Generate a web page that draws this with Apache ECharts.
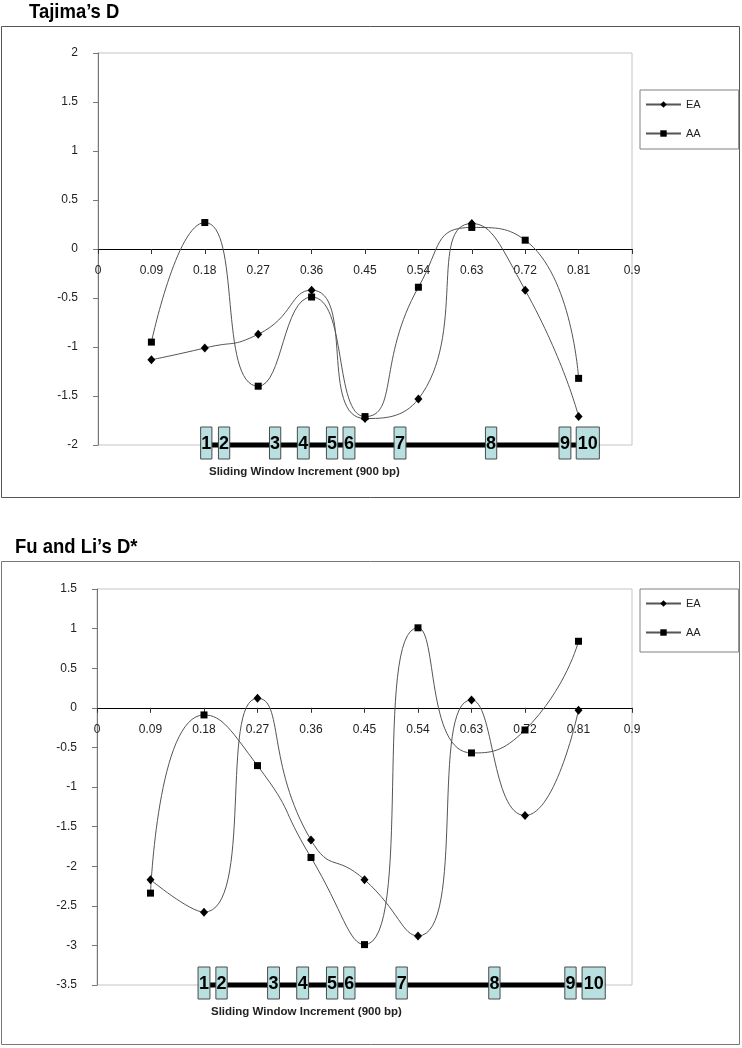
<!DOCTYPE html>
<html>
<head>
<meta charset="utf-8">
<title>Tajima's D / Fu and Li's D*</title>
<script src="https://cdn.jsdelivr.net/npm/echarts@6/dist/echarts.min.js"></script>
<style>
  html, body { margin: 0; padding: 0; background: #fff; }
  #main { width: 742px; height: 1048px; }
</style>
</head>
<body>
<div id="main"></div>
<script>
// sliding window positions (x axis)
var windowPos = [0.09, 0.18, 0.27, 0.36, 0.45, 0.54, 0.63, 0.72, 0.81];

// Tajima's D
var tajimaEA = [-1.13, -1.01, -0.87, -0.42, -1.73, -1.53, 0.26, -0.42, -1.71];
var tajimaAA = [-0.95, 0.27, -1.40, -0.49, -1.71, -0.39, 0.22, 0.09, -1.32];

// Fu and Li's D*
var fuliEA = [-2.17, -2.58, 0.12, -1.67, -2.17, -2.88, 0.10, -1.36, -0.03];
var fuliAA = [-2.34, -0.09, -0.73, -1.89, -2.99, 1.01, -0.57, -0.28, 0.84];

// exon diagram (positions in x-axis units), drawn along the bottom of each plot
var exonLabels = ['1', '2', '3', '4', '5', '6', '7', '8', '9', '10'];
var tajimaExonStart = [0.173, 0.203, 0.289, 0.336, 0.385, 0.413, 0.499, 0.653, 0.777, 0.806];
var tajimaExonEnd   = [0.192, 0.222, 0.308, 0.356, 0.404, 0.433, 0.519, 0.672, 0.797, 0.845];
var fuliExonStart = [0.170, 0.200, 0.287, 0.336, 0.386, 0.415, 0.503, 0.659, 0.787, 0.816];
var fuliExonEnd   = [0.190, 0.219, 0.307, 0.356, 0.405, 0.434, 0.522, 0.678, 0.806, 0.855];

var xTicks = { min: 0, max: 0.9, interval: 0.09 };
var tajimaY = { min: -2, max: 2, interval: 0.5 };
var fuliY = { min: -3.5, max: 1.5, interval: 0.5 };

var FONT = 'Liberation Sans, Arial, sans-serif';

var grids = [
  { left: 98, top: 53, width: 534, height: 392 },
  { left: 97, top: 589, width: 535, height: 396 }
];

function pairs(xs, ys) {
  return xs.map(function (x, i) { return [x, ys[i]]; });
}

// x axis sits on y = 0, labels and ticks travel with it (Excel style)
function xAxisFor(idx, yr) {
  var zeroOffset = -grids[idx].height * (0 - yr.min) / (yr.max - yr.min);
  return {
    type: 'value', gridIndex: idx,
    min: xTicks.min, max: xTicks.max, interval: xTicks.interval,
    offset: zeroOffset,
    axisLine: { show: true, onZero: false, lineStyle: { color: '#000', width: 1 } },
    axisTick: { show: true, length: 5, lineStyle: { color: '#333' } },
    axisLabel: {
      margin: 16, color: '#222', fontSize: 12, fontFamily: FONT,
      formatter: function (v) { return String(+v.toFixed(2)); }
    },
    splitLine: { show: false }
  };
}

function yAxisFor(idx, r) {
  return {
    type: 'value', gridIndex: idx,
    min: r.min, max: r.max, interval: r.interval,
    axisLine: { show: true, onZero: false, lineStyle: { color: '#777', width: 1 } },
    axisTick: { show: true, length: 5, lineStyle: { color: '#777' } },
    axisLabel: { margin: 20, color: '#222', fontSize: 12, fontFamily: FONT },
    splitLine: { show: false }
  };
}

function lineSeries(idx, name, ys) {
  var isEA = name === 'EA';
  return {
    type: 'line', name: name, xAxisIndex: idx, yAxisIndex: idx,
    data: pairs(windowPos, ys),
    smooth: 0.6,
    symbol: isEA ? 'diamond' : 'rect',
    symbolSize: isEA ? [8, 9] : 7,
    itemStyle: { color: '#000' },
    lineStyle: { color: '#555', width: 1 },
    z: 5
  };
}

function backbone(idx, starts, ends, yBase) {
  return {
    type: 'line', xAxisIndex: idx, yAxisIndex: idx,
    data: [[starts[0], yBase], [ends[ends.length - 1], yBase]],
    symbol: 'none', clip: false, silent: true,
    lineStyle: { color: '#000', width: 5 },
    z: 2
  };
}

function exons(idx, starts, ends, yBase) {
  return {
    type: 'custom', xAxisIndex: idx, yAxisIndex: idx, silent: true, z: 3,
    data: starts.map(function (s, i) { return [s, ends[i], yBase]; }),
    encode: { x: [0, 1], y: 2 },
    renderItem: function (params, api) {
      var p0 = api.coord([api.value(0), api.value(2)]);
      var p1 = api.coord([api.value(1), api.value(2)]);
      var h = 32;
      var top = p0[1] - h / 2 - 2;
      return {
        type: 'group',
        children: [
          { type: 'rect', shape: { x: p0[0], y: top, width: p1[0] - p0[0], height: h },
            style: { fill: '#b9e0e0', stroke: '#4a4a4a', lineWidth: 1 } },
          { type: 'text', x: (p0[0] + p1[0]) / 2, y: top + h / 2 + 1,
            style: { text: exonLabels[params.dataIndex], align: 'center', verticalAlign: 'middle',
              font: 'bold 18px ' + FONT, fill: '#000' } }
        ]
      };
    }
  };
}

function legendFor(top, padding) {
  return {
    data: ['EA', 'AA'], orient: 'vertical', left: 640, top: top,
    padding: padding, itemGap: 18, itemWidth: 35, itemHeight: 8,
    borderColor: '#808080', borderWidth: 1,
    textStyle: { fontSize: 11, fontFamily: FONT, color: '#222' }
  };
}

// condensed bold heading above each panel
function heading(text, x, y) {
  return {
    type: 'text', x: x, y: y, scaleX: 0.88, z: 10,
    style: { text: text, font: 'bold 21px ' + FONT, fill: '#000', verticalAlign: 'top' }
  };
}

var chart = echarts.init(document.getElementById('main'), null, { renderer: 'canvas' });

var option = {
  animation: false,
  backgroundColor: '#fff',
  title: [
    { text: 'Sliding Window Increment (900 bp)', left: 209, top: 466, padding: 0,
      textStyle: { fontFamily: FONT, fontWeight: 'bold', fontSize: 11.5, color: '#222' } },
    { text: 'Sliding Window Increment (900 bp)', left: 211, top: 1006, padding: 0,
      textStyle: { fontFamily: FONT, fontWeight: 'bold', fontSize: 11.5, color: '#222' } }
  ],
  graphic: [
    heading('Tajima\u2019s D', 29, 2),
    heading('Fu and Li\u2019s D*', 15, 537),
    { type: 'rect', shape: { x: 1.5, y: 26.5, width: 738, height: 471 },
      style: { fill: null, stroke: '#555', lineWidth: 1 }, z: -1 },
    { type: 'rect', shape: { x: 1.5, y: 561.5, width: 738, height: 483 },
      style: { fill: null, stroke: '#777', lineWidth: 1 }, z: -1 }
  ],
  legend: [
    legendFor(90, [9, 38, 10, 5]),
    legendFor(589, [9, 38, 14, 5])
  ],
  grid: grids.map(function (g) {
    return { left: g.left, top: g.top, width: g.width, height: g.height,
      show: true, borderColor: '#c4c4c4', borderWidth: 1, backgroundColor: 'transparent' };
  }),
  xAxis: [xAxisFor(0, tajimaY), xAxisFor(1, fuliY)],
  yAxis: [yAxisFor(0, tajimaY), yAxisFor(1, fuliY)],
  series: [
    backbone(0, tajimaExonStart, tajimaExonEnd, tajimaY.min),
    exons(0, tajimaExonStart, tajimaExonEnd, tajimaY.min),
    lineSeries(0, 'EA', tajimaEA),
    lineSeries(0, 'AA', tajimaAA),
    backbone(1, fuliExonStart, fuliExonEnd, fuliY.min),
    exons(1, fuliExonStart, fuliExonEnd, fuliY.min),
    lineSeries(1, 'EA', fuliEA),
    lineSeries(1, 'AA', fuliAA)
  ]
};

chart.setOption(option);
</script>
</body>
</html>
